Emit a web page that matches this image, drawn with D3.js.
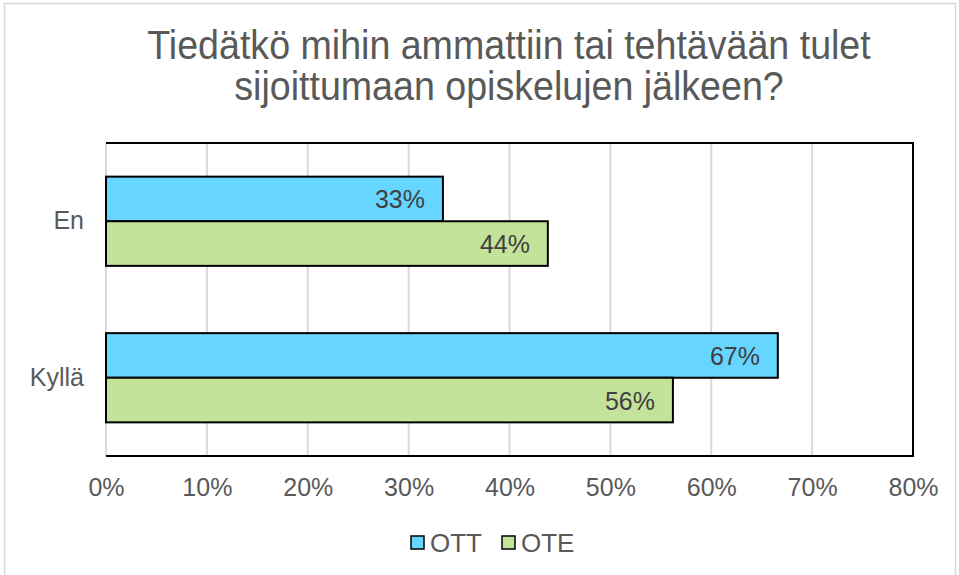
<!DOCTYPE html>
<html><head><meta charset="utf-8">
<script src="https://cdn.jsdelivr.net/npm/d3@7"></script>
<style>body{margin:0;background:#fff}svg{display:block}text{font-family:"Liberation Sans",Arial,sans-serif}</style>
</head><body><svg id="c" width="959" height="575"></svg>
<script>
const titleLines = ["Tiedätkö mihin ammattiin tai tehtävään tulet", "sijoittumaan opiskelujen jälkeen?"];
const categories = ["En", "Kyllä"];
const seriesNames = ["OTT", "OTE"];
const seriesColors = ["#66d5ff", "#c3e39b"];
const OTT = [33.4, 66.6];
const OTE = [43.8, 56.2];
const xTicks = [0, 10, 20, 30, 40, 50, 60, 70, 80];

const series = [OTT, OTE];
const svg = d3.select("#c");
const W = 959, H = 575;
const m = {l: 106, r: 913, t: 143, b: 456};

svg.append("rect").attr("x", 4.5).attr("y", 3.5).attr("width", W - 8).attr("height", H + 10)
  .attr("fill", "#fff").attr("stroke", "#d9d9d9").attr("stroke-width", 1.5);

svg.append("g").selectAll("text").data(titleLines).join("text")
  .attr("transform", (d, i) => `translate(509,${59 + i * 41}) scale(0.94,1)`)
  .attr("text-anchor", "middle").attr("font-size", 40).attr("fill", "#595959").text(d => d);

const x = d3.scaleLinear().domain([0, 80]).range([m.l, m.r]);
const y = d3.scaleBand().domain(categories).range([m.t, m.b]).paddingInner(0.43).paddingOuter(0.215);
const ys = d3.scaleBand().domain(seriesNames).range([0, y.bandwidth()]);

// gridlines
svg.append("g").selectAll("line").data(xTicks.slice(1, -1)).join("line")
  .attr("x1", d => x(d)).attr("x2", d => x(d)).attr("y1", m.t).attr("y2", m.b)
  .attr("stroke", "#d9d9d9").attr("stroke-width", 2);

// y axis line (left)
svg.append("line").attr("x1", m.l).attr("x2", m.l).attr("y1", m.t).attr("y2", m.b)
  .attr("stroke", "#d9d9d9").attr("stroke-width", 2);

// bars
const g = svg.append("g");
series.forEach((vals, si) => {
  g.selectAll(null).data(vals).join("rect")
    .attr("x", x(0)).attr("y", (d, i) => y(categories[i]) + ys(seriesNames[si]))
    .attr("width", d => x(d) - x(0)).attr("height", ys.bandwidth())
    .attr("fill", seriesColors[si]).attr("stroke", "#000").attr("stroke-width", 2);
  g.selectAll(null).data(vals).join("text")
    .attr("transform", (d, i) => `translate(${x(d) - 18},${y(categories[i]) + ys(seriesNames[si]) + ys.bandwidth() / 2 + 9.5}) scale(0.96,1)`)
    .attr("text-anchor", "end").attr("font-size", 26).attr("fill", "#404040")
    .text(d => Math.round(d) + "%");
});

// plot border (top, right, bottom)
svg.append("path").attr("d", `M${m.l},${m.t}H${m.r}V${m.b}H${m.l}`)
  .attr("fill", "none").attr("stroke", "#000").attr("stroke-width", 2);

// x axis labels
const xAxis = d3.axisBottom(x).tickValues(xTicks).tickSize(0).tickPadding(22).tickFormat(d => d + "%");
const xg = svg.append("g").attr("transform", `translate(0,${m.b})`).call(xAxis);
xg.select(".domain").remove();
xg.selectAll("text").attr("font-size", 25).attr("fill", "#595959").attr("font-family", "Liberation Sans, Arial, sans-serif");

// y axis labels
const yAxis = d3.axisLeft(y).tickSize(0).tickPadding(22);
const yg = svg.append("g").attr("transform", `translate(${m.l},0)`).call(yAxis);
yg.select(".domain").remove();
yg.selectAll("text").attr("font-size", 25).attr("fill", "#595959").attr("font-family", "Liberation Sans, Arial, sans-serif");

// legend
const legX = [411, 502];
const lg = svg.append("g");
seriesNames.forEach((n, i) => {
  lg.append("rect").attr("x", legX[i]).attr("y", 536).attr("width", 13).attr("height", 13)
    .attr("fill", seriesColors[i]).attr("stroke", "#000").attr("stroke-width", 1.5);
  lg.append("text").attr("x", legX[i] + 19).attr("y", 552).attr("font-size", 26).attr("fill", "#595959").text(n);
});
</script></body></html>
